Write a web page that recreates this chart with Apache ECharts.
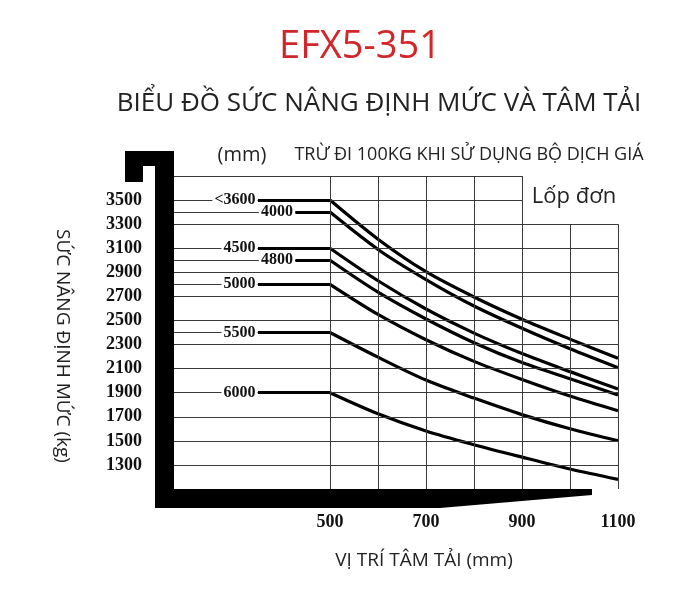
<!DOCTYPE html>
<html><head><meta charset="utf-8">
<script src="https://cdn.jsdelivr.net/npm/echarts@6/dist/echarts.min.js"></script>
<style>html,body{margin:0;padding:0;background:#fff}#c{width:691px;height:595px}</style>
</head><body><div id="c"></div>
<script>
// ---- data ----
const loadCenters = [500, 600, 700, 800, 900, 1000, 1100];       // mm
const curveNames  = ['<3600', '4000', '4500', '4800', '5000', '5500', '6000']; // lift height mm
const cap3600 = [3500, 3175, 2905, 2695, 2510, 2345, 2186];
const cap4000 = [3400, 3090, 2840, 2620, 2435, 2265, 2108];
const cap4500 = [3100, 2830, 2595, 2395, 2225, 2075, 1931];
const cap4800 = [3000, 2735, 2512, 2315, 2150, 2015, 1881];
const cap5000 = [2800, 2550, 2340, 2160, 2010, 1872, 1750];
const cap5500 = [2400, 2195, 2005, 1855, 1718, 1600, 1501];
const cap6000 = [1900, 1725, 1582, 1468, 1365, 1266, 1180];
const yTickLabels = [3500, 3300, 3100, 2900, 2700, 2500, 2300, 2100, 1900, 1700, 1500, 1300];
const xTickLabels = [500, 700, 900, 1100];
const hGridValues = [3700, 3500, 3300, 3100, 2900, 2700, 2500, 2300, 2100, 1900, 1700, 1500, 1300];
const vGridValues = [500, 600, 700, 800, 900, 1000, 1100];

// ---- layout / style ----
const X0 = 175, X1 = 1100, Y0 = 1100, Y1 = 3700;
const labelEnds = { '<3600': 350, '4000': 428, '4500': 350, '4800': 428, '5000': 350, '5500': 350, '6000': 350 };
const capSets = [cap3600, cap4000, cap4500, cap4800, cap5000, cap5500, cap6000];
const numFont = "'Liberation Serif', 'DejaVu Serif', serif";
const sansFont = "'Open Sans', 'Noto Sans', sans-serif";

const chart = echarts.init(document.getElementById('c'), null, { renderer: 'canvas' });

const gridLines = [];
hGridValues.forEach(v => {
  const xEnd = v > 3300 ? 900 : X1;
  gridLines.push([{ coord: [X0, v] }, { coord: [xEnd, v] }]);
});
vGridValues.forEach(v => {
  const yEnd = v > 900 ? 3300 : Y1;
  gridLines.push([{ coord: [v, Y0] }, { coord: [v, yEnd] }]);
});

const series = [{
  type: 'line', data: [], silent: true, z: 1,
  markLine: {
    silent: true, symbol: ['none', 'none'], label: { show: false },
    lineStyle: { color: '#3a3a3a', width: 1, type: 'solid' },
    emphasis: { disabled: true },
    data: gridLines
  }
}];

curveNames.forEach((name, k) => {
  const vals = capSets[k];
  const le = labelEnds[name];
  series.push({
    type: 'line', name: name, smooth: 0.3, symbol: 'none', z: 3, silent: true,
    data: loadCenters.map((x, i) => [x, vals[i]]),
    lineStyle: { color: '#000', width: 3.2 },
    markLine: {
      silent: true, symbol: ['none', 'none'], label: { show: false },
      emphasis: { disabled: true },
      data: [
        [{ coord: [X0, vals[0]], lineStyle: { width: 1, color: '#3a3a3a', type: 'solid' } }, { coord: [le, vals[0]] }],
        [{ coord: [le, vals[0]], lineStyle: { width: 3.2, color: '#000', type: 'solid' } }, { coord: [loadCenters[0], vals[0]] }]
      ]
    },
    markPoint: {
      silent: true, symbol: 'circle', symbolSize: 1, itemStyle: { color: '#000' },
      data: [{
        coord: [le, vals[0]],
        label: {
          show: true, position: 'left', distance: 0, formatter: name,
          fontFamily: numFont, fontWeight: 'bold', fontSize: 16, color: '#111',
          backgroundColor: '#fff', padding: [1, 2, 0, 2]
        }
      }]
    }
  });
});

const txt = (x, y, text, size, color, opts) => Object.assign({
  type: 'text', x: x, y: y, z: 20, silent: true,
  style: Object.assign({ text: text, fontFamily: sansFont, fontSize: size, fill: color, align: 'center', verticalAlign: 'middle' }, (opts || {}))
});

chart.setOption({
  animation: false,
  backgroundColor: '#fff',
  grid: { left: 174, right: 73, top: 176, bottom: 106, containLabel: false },
  xAxis: {
    type: 'value', min: X0, max: X1, interval: 25,
    axisLine: { show: false }, axisTick: { show: false }, splitLine: { show: false },
    axisLabel: {
      formatter: v => xTickLabels.includes(v) ? String(v) : '',
      margin: 24, fontFamily: numFont, fontWeight: 'bold', fontSize: 18, color: '#111'
    }
  },
  yAxis: {
    type: 'value', min: Y0, max: Y1, interval: 100,
    axisLine: { show: false }, axisTick: { show: false }, splitLine: { show: false },
    axisLabel: {
      formatter: v => yTickLabels.includes(v) ? String(v) : '',
      margin: 32, fontFamily: numFont, fontWeight: 'bold', fontSize: 18, color: '#111',
      padding: [5, 0, 0, 0]
    }
  },
  series: series,
  graphic: [
    // mast (left) and forks (bottom)
    { type: 'polygon', z: 10, silent: true,
      shape: { points: [[125, 151], [174, 151], [174, 508], [155, 508], [155, 166], [143, 166], [143, 182], [125, 182]] },
      style: { fill: '#000' } },
    { type: 'polygon', z: 10, silent: true,
      shape: { points: [[155, 489], [592, 489], [592, 495], [440, 508], [155, 508]] },
      style: { fill: '#000' } },
    txt(360, 47, 'EFX5-351', 38, '#d3262a'),
    txt(379, 104, 'BIỂU ĐỒ SỨC NÂNG ĐỊNH MỨC VÀ TÂM TẢI', 26, '#222'),
    txt(242, 155, '(mm)', 20, '#222'),
    txt(469, 155, 'TRỪ ĐI 100KG KHI SỬ DỤNG BỘ DỊCH GIÁ', 18, '#222'),
    txt(574, 197, 'Lốp đơn', 22, '#222'),
    txt(424, 561, 'VỊ TRÍ TÂM TẢI (mm)', 19, '#222'),
    Object.assign(txt(62, 346, 'SỨC NÂNG ĐỊNH MỨC (kg)', 19, '#222'), { rotation: -Math.PI / 2 })
  ]
});
</script>
</body></html>
